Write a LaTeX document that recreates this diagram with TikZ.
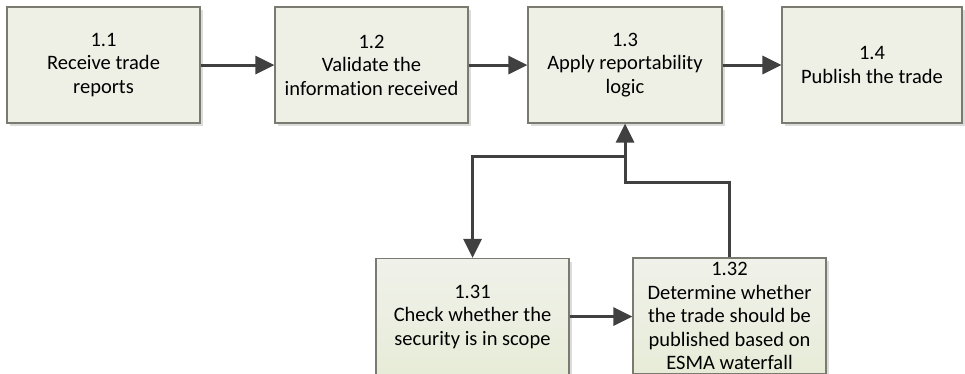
\documentclass[tikz,border=0pt]{standalone}
\usepackage{fontspec}
\setmainfont[Ligatures=NoCommon]{Carlito}
\usetikzlibrary{arrows.meta,shadows}
\definecolor{boxfill}{HTML}{EEF0E6}
\definecolor{boxline}{HTML}{7A7A70}
\definecolor{arrcol}{HTML}{404040}
\definecolor{shcol}{HTML}{DCDCDC}
\definecolor{gradtop}{HTML}{F0F1EA}
\definecolor{gradbot}{HTML}{E7ECD8}
\tikzset{
  procbox/.style={draw=boxline, line width=1.2pt, fill=boxfill, inner sep=0pt,
    align=center, font=\fontsize{20.5}{23.5}\selectfont,
    general shadow={fill=shcol, shadow xshift=3pt, shadow yshift=-3pt}},
  gradbox/.style={procbox, top color=gradtop, bottom color=gradbot},
  arr/.style={draw=arrcol, line width=3pt, -{Triangle[length=19pt,width=18pt]}}
}
\begin{document}
\begin{tikzpicture}[x=1pt,y=-1pt]
\useasboundingbox (0,0) rectangle (965,373);
\fill[white] (0,0) rectangle (965,373);
\node[procbox, minimum width=193pt, minimum height=116pt] (b1) at (103.5,65) {1.1\\Receive trade\\reports};
\node[procbox, minimum width=193pt, minimum height=116pt] (b2) at (371.5,65) {1.2\\Validate the\\information received};
\node[procbox, minimum width=194pt, minimum height=116pt] (b3) at (625,65) {1.3\\Apply reportability\\logic};
\node[procbox, minimum width=180pt, minimum height=116pt] (b4) at (872,65) {1.4\\Publish the trade};
\node[gradbox, minimum width=193pt, minimum height=116pt] (b31) at (472.5,316.5) {1.31\\Check whether the\\security is in scope};
\node[gradbox, minimum width=193pt, minimum height=116pt] (b32) at (729.5,316) {1.32\\Determine whether\\the trade should be\\published based on\\ESMA waterfall};
\coordinate (jl) at (625,156);
\coordinate (jr) at (625,182);
\draw[arr] (b1.east) -- (b2.west);
\draw[arr] (b2.east) -- (b3.west);
\draw[arr] (b3.east) -- (b4.west);
\draw[arr] (b31.east) -- (b32.west |- b31.east);
\draw[arr] (b32.north) |- (jr) -- (b3.south);
\draw[arr] (jl) -| (b31.north);
\end{tikzpicture}
\end{document}
